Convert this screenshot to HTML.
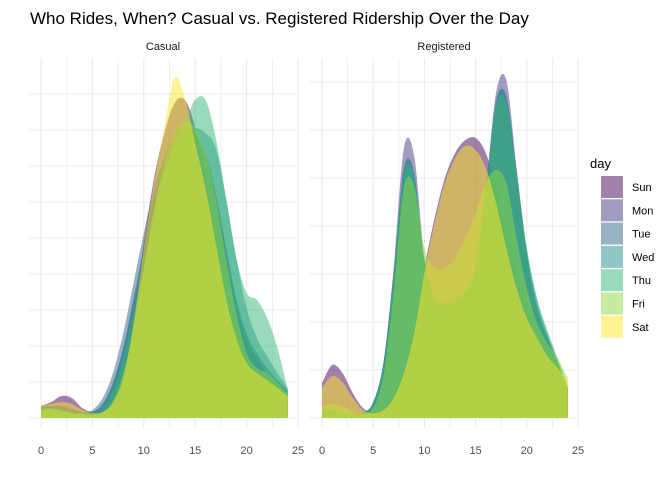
<!DOCTYPE html>
<html><head><meta charset="utf-8"><style>
body{margin:0;background:#fff;}
svg text{font-family:"Liberation Sans",sans-serif;}
</style></head><body>
<svg id="c" width="672" height="480" xmlns="http://www.w3.org/2000/svg">
<rect width="672" height="480" fill="#fff"/>
<text x="30" y="24" font-size="17" fill="#000">Who Rides, When? Casual vs. Registered Ridership Over the Day</text>
<text x="163" y="50" font-size="11" fill="#1a1a1a" text-anchor="middle">Casual</text>
<text x="444" y="50" font-size="11" fill="#1a1a1a" text-anchor="middle">Registered</text>
<g id="legend">
<text x="590" y="168" font-size="13" fill="#000">day</text>
</g>
</svg>
<script>
const days=["Sun","Mon","Tue","Wed","Thu","Fri","Sat"];
const colors=["#440154","#443A83","#31688E","#21908C","#35B779","#8FD744","#FDE725"];
const hours=[0,1,2,3,4,5,6,7,8,9,10,11,12,13,14,15,16,17,18,19,20,21,22,23,24];
const xTicks=[0,5,10,15,20,25];
const casualSun=[12,16,22,20,10,6,8,20,45,100,175,240,285,315,318,290,240,180,120,75,50,40,32,25,18];
const casualMon=[10,12,12,9,6,6,14,35,70,120,170,220,255,280,290,285,265,225,170,115,80,60,45,35,26];
const casualTue=[12,12,10,8,6,8,20,45,85,135,185,230,260,285,295,285,260,220,170,120,85,65,50,38,28];
const casualWed=[10,10,8,6,5,6,14,35,70,115,160,210,250,275,285,290,285,270,220,160,110,80,62,45,30];
const casualThu=[9,10,8,6,5,5,10,28,60,105,150,200,245,275,295,318,318,280,220,160,125,118,100,70,28];
const casualFri=[8,9,7,5,4,3,6,18,45,90,150,210,255,285,296,290,265,220,160,105,65,50,45,35,25];
const casualSat=[12,14,16,14,8,5,6,15,40,95,170,235,290,340,320,275,230,175,120,80,55,45,38,30,22];
const regSun=[35,53,45,25,10,6,10,25,50,90,150,200,240,265,278,280,265,230,180,140,105,80,60,45,30];
const regMon=[8,8,6,4,5,15,55,150,270,262,160,120,115,118,125,150,230,325,338,250,165,110,80,55,30];
const regTue=[7,7,5,4,5,16,55,145,250,245,155,118,112,115,122,148,225,315,322,245,165,112,82,56,30];
const regWed=[7,7,5,4,5,16,55,145,248,243,155,118,112,116,124,150,228,318,320,248,170,118,85,58,30];
const regThu=[8,8,6,4,5,15,52,140,245,240,155,120,116,120,128,152,228,312,315,245,170,120,88,60,32];
const regFri=[12,14,12,6,4,10,42,125,230,232,170,150,150,160,180,205,235,248,235,180,130,95,75,60,40];
const regSat=[30,42,36,20,8,5,8,20,45,85,145,195,235,260,272,268,250,215,170,130,100,80,62,50,38];
const casual=[casualSun,casualMon,casualTue,casualWed,casualThu,casualFri,casualSat];
const reg=[regSun,regMon,regTue,regWed,regThu,regFri,regSat];
const svg=document.getElementById('c');
const NS="http://www.w3.org/2000/svg";
function mk(t,a){const e=document.createElementNS(NS,t);for(const k in a)e.setAttribute(k,a[k]);return e;}
const panels=[
 {name:"casual",x0:41,x1:298,l:29,r:298,data:casual,gridStep:36,nGrid:9},
 {name:"registered",x0:322,x1:578,l:310,r:578,data:reg,gridStep:48,nGrid:7}];
const baseY=418, topY=58;
panels.forEach(p=>{
 const g=mk('g',{});
 
 
 svg.appendChild(g);
 const xs=v=>p.x0+(p.x1-p.x0)*v/25;
 const ys=v=>baseY-v;
 for(let i=0;i<=p.nGrid;i++){const y=baseY-i*p.gridStep;
  const ln=mk('line',{x1:p.l,x2:p.r,y1:y,y2:y,stroke:'#ebebeb','stroke-width':1});
  
  
  g.appendChild(ln);}
 for(let v=0;v<=25;v+=2.5){
  const ln=mk('line',{x1:xs(v),x2:xs(v),y1:topY,y2:428,stroke:'#ebebeb','stroke-width':v%5==0?1.1:0.8});
  
  
  g.appendChild(ln);}
 xTicks.forEach(t=>{const tx=mk('text',{x:xs(t),y:454,'font-size':11,fill:'#4d4d4d','text-anchor':'middle'});tx.textContent=t;
  
  
  g.appendChild(tx);});
 p.data.forEach((arr,di)=>{
  const pts=hours.map((h,i)=>[xs(h),ys(arr[i])]);
  let d=`M${pts[0][0]},${baseY}L${pts[0][0]},${pts[0][1]}`;
  for(let i=0;i<pts.length-1;i++){
   const p0=pts[Math.max(0,i-1)],p1=pts[i],p2=pts[i+1],p3=pts[Math.min(pts.length-1,i+2)];
   const c1=[p1[0]+(p2[0]-p0[0])/6,p1[1]+(p2[1]-p0[1])/6];
   const c2=[p2[0]-(p3[0]-p1[0])/6,p2[1]-(p3[1]-p1[1])/6];
   d+=`C${c1[0]},${Math.min(baseY,c1[1])},${c2[0]},${Math.min(baseY,c2[1])},${p2[0]},${p2[1]}`;
  }
  d+=`L${pts[pts.length-1][0]},${baseY}Z`;
  const path=mk('path',{d:d,fill:colors[di],'fill-opacity':0.5,stroke:'none'});
  
  
  g.appendChild(path);
 });
});
const lg=document.getElementById('legend');
days.forEach((d,i)=>{
 const y=176+i*23.3;
 const r=mk('rect',{x:601,y:y,width:22,height:22,fill:colors[i],'fill-opacity':0.5});
 
 
 lg.appendChild(r);
 const t=mk('text',{x:632,y:y+15,'font-size':11,fill:'#000'});t.textContent=d;
 
 
 lg.appendChild(t);
});
</script>
</body></html>
